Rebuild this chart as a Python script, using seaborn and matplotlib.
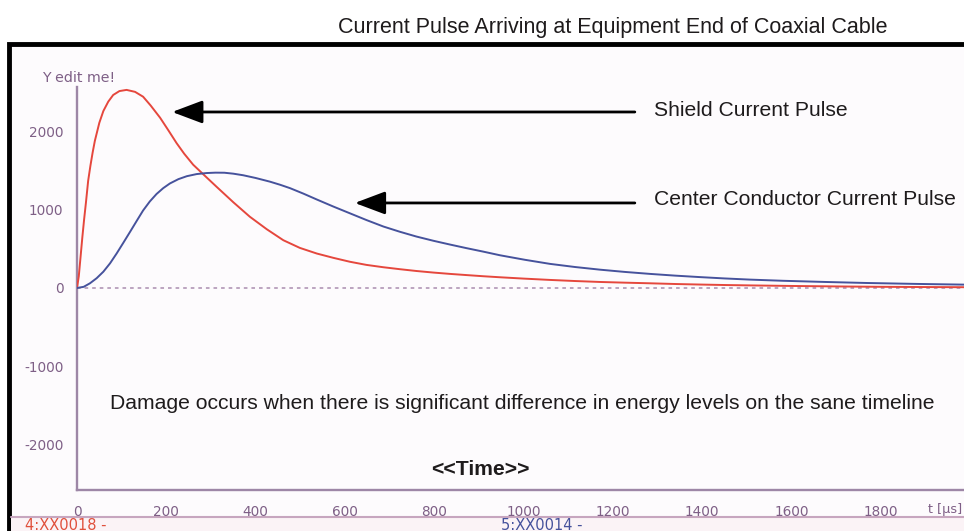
import matplotlib
matplotlib.use("Agg")
import matplotlib.pyplot as plt
import matplotlib.patches as mpatches
import numpy as np
import pandas as pd
import seaborn as sns

# ---- data ----
shield_t = [0, 4, 8, 12, 16, 20, 25, 30, 35, 40, 50, 59, 70, 81, 95, 111, 130, 148,
            165, 186, 205, 223, 240, 260, 285, 313, 350, 387, 425, 462, 499, 537, 574,
            611, 648, 686, 723, 760, 798, 835, 872, 910, 947, 1000, 1059, 1115, 1171,
            1227, 1283, 1339, 1395, 1450, 1507, 1600, 1700, 1800, 1900, 1986]
shield_i = [0, 150, 400, 650, 880, 1090, 1370, 1560, 1730, 1880, 2110, 2260, 2380,
            2465, 2515, 2530, 2505, 2443, 2330, 2175, 2010, 1850, 1715, 1575, 1440,
            1290, 1095, 910, 750, 610, 512, 440, 385, 335, 295, 265, 240, 217, 197,
            180, 165, 150, 137, 120, 103, 89, 77, 68, 60, 51, 44, 38, 33, 26, 20, 15,
            12, 10]
center_t = [0, 15, 29, 44, 59, 74, 89, 104, 119, 134, 148, 163, 178, 193, 208, 227,
            246, 268, 290, 310, 330, 350, 372, 400, 432, 455, 477, 507, 537, 574, 611,
            648, 686, 723, 760, 798, 835, 872, 910, 947, 1003, 1059, 1115, 1171, 1227,
            1283, 1339, 1395, 1450, 1507, 1581, 1675, 1768, 1880, 1986]
center_i = [0, 15, 60, 125, 208, 315, 443, 580, 719, 860, 990, 1105, 1200, 1275, 1335,
            1390, 1428, 1455, 1468, 1473, 1472, 1460, 1440, 1405, 1358, 1318, 1275,
            1205, 1130, 1040, 954, 868, 785, 718, 657, 603, 555, 509, 464, 418, 360,
            308, 268, 234, 205, 180, 158, 139, 122, 107, 92, 77, 64, 52, 43]
series_names = ["Shield Current Pulse", "Center Conductor Current Pulse"]
x_ticks = [0, 200, 400, 600, 800, 1000, 1200, 1400, 1600, 1800]
y_ticks = [-2000, -1000, 0, 1000, 2000]

df = pd.concat([
    pd.DataFrame({"t": shield_t, "I": shield_i, "series": series_names[0]}),
    pd.DataFrame({"t": center_t, "I": center_i, "series": series_names[1]}),
])

sns.set_theme(style="white")
plt.rcParams["font.family"] = ["Liberation Sans", "DejaVu Sans"]
plt.rcParams["axes.unicode_minus"] = False

W, H = 964, 531
fig = plt.figure(figsize=(W / 100, H / 100), dpi=100)
fig.patch.set_facecolor("white")

def fx(px):
    return px / W

def fy(py):
    return 1 - py / H

# frame with light background
frame = mpatches.Rectangle((fx(9), fy(560)), fx(1000), fy(44) - fy(560),
                           transform=fig.transFigure, facecolor="#fdfbfd",
                           edgecolor="black", lw=3.5, zorder=-10)
fig.patches.append(frame)
# bottom status strip
strip = mpatches.Rectangle((fx(11), fy(531)), fx(980), fy(517) - fy(531),
                           transform=fig.transFigure, facecolor="#fbf3f6",
                           edgecolor="none", zorder=-9)
fig.patches.append(strip)
fig.add_artist(plt.Line2D([fx(11), 1], [fy(517), fy(517)], transform=fig.transFigure,
                          color="#c7a6bf", lw=1.5, zorder=-8))

ax = fig.add_axes([fx(77), fy(490), fx(964) - fx(77), fy(87) - fy(490)])
ax.set_facecolor("none")
ax.set_zorder(1)

spine_c = "#9d86a6"
label_c = "#7e5f86"

ax.axhline(0, color="#b79dbb", lw=1.3, ls=(0, (2, 2.2)), zorder=1)

sns.lineplot(data=df, x="t", y="I", hue="series",
             palette={series_names[0]: "#e5473d", series_names[1]: "#46529c"},
             estimator=None, sort=False, legend=False, lw=1.4, ax=ax, zorder=3)

ax.set_xlim(0, 1986)
ax.set_ylim(-2580, 2567)
ax.set_xticks(x_ticks)
ax.set_yticks(y_ticks)
ax.set_xlabel("")
ax.set_ylabel("")
for s in ["top", "right"]:
    ax.spines[s].set_visible(False)
for s in ["left", "bottom"]:
    ax.spines[s].set_color(spine_c)
    ax.spines[s].set_linewidth(1.7)
ax.tick_params(axis="both", direction="out", length=8.2, width=1.3, color=spine_c,
               labelcolor=label_c, labelsize=9.8, pad=1.5)
ax.tick_params(axis="x", pad=2.5)
for lab in ax.get_xticklabels() + ax.get_yticklabels():
    lab.set_family(["DejaVu Sans"])

# annotations
fs = 15.2
txt_kw = dict(fontsize=fs, color="#1e1b1c", va="center", ha="left")
arrow_kw = dict(arrowstyle="-|>,head_length=0.85,head_width=0.32",
                color="black", lw=2.0, shrinkA=0, shrinkB=0, mutation_scale=22)
ax.annotate("", xy=(213, 2248), xytext=(1249, 2248), arrowprops=arrow_kw)
ax.text(1292, 2270, series_names[0], **txt_kw)
ax.annotate("", xy=(622, 1086), xytext=(1249, 1086), arrowprops=arrow_kw)
ax.text(1292, 1135, series_names[1], **txt_kw)
ax.text(997, -1481,
        "Damage occurs when there is significant difference in energy levels on the sane timeline",
        fontsize=fs, color="#1e1b1c", ha="center", va="center")
ax.text(904, -2312, "<<Time>>", fontsize=fs, fontweight="bold", color="#1e1b1c",
        ha="center", va="center")

fig.text(fx(613), fy(27), "Current Pulse Arriving at Equipment End of Coaxial Cable",
         fontsize=15.5, color="#1e1b1c", ha="center", va="center")
fig.text(fx(42), fy(78), "Y edit me!", fontsize=10.2, color=label_c, ha="left",
         va="center", family=["DejaVu Sans"])
fig.text(fx(962), fy(509), "t [µs]", fontsize=9.2, color=label_c, ha="right",
         va="center", family=["DejaVu Sans"])
fig.text(fx(25), fy(525), "4:XX0018 -", fontsize=10.5, color="#e0503c", ha="left",
         va="center", family=["DejaVu Sans"])
fig.text(fx(501), fy(525), "5:XX0014 -", fontsize=10.5, color="#46529c", ha="left",
         va="center", family=["DejaVu Sans"])

fig.savefig("out.png", dpi=100)
